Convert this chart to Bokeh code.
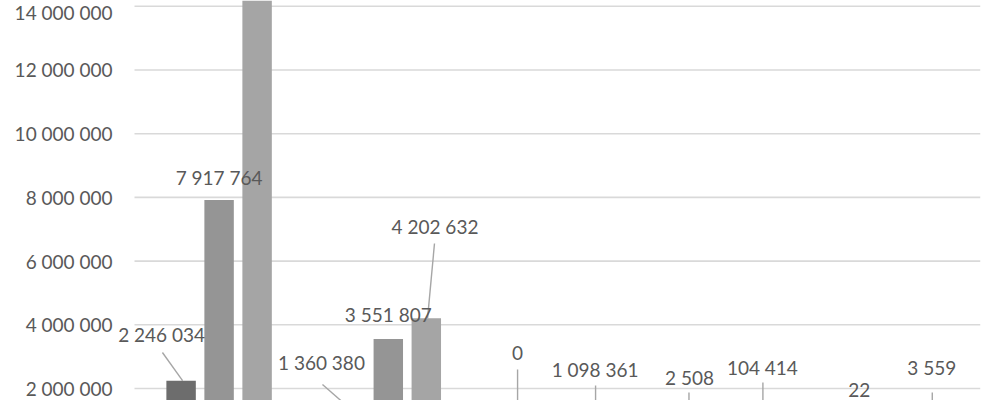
from bokeh.plotting import figure
from bokeh.models import Range1d, CustomJSTickFormatter, FixedTicker, ColumnDataSource, LabelSet
from bokeh.core.properties import value
from bokeh.embed import file_html
from bokeh.resources import INLINE

# ---- data ----
categories = ["Catégorie 1", "Catégorie 2", "Catégorie 3", "Catégorie 4", "Catégorie 5"]
series_names = ["Série 1", "Série 2", "Série 3"]
series1 = [2246034, 1360380, 0, 2508, 22]
series2 = [7917764, 3551807, 250000, 36000, 1200]
series3 = [15200000, 4202632, 1098361, 104414, 3559]
series_values = [series1, series2, series3]
y_ticks = [0, 2000000, 4000000, 6000000, 8000000, 10000000, 12000000, 14000000, 16000000]

# ---- styling / positions ----
colors = ["#6d6d6d", "#959595", "#a5a5a5"]
bar_offsets = [-0.2246, 0.0, 0.2246]
bar_width = 0.174
font = "Lato"
fsize = "19px"
text_color = "#595959"
y_lo, y_hi = 1.623e6, 14.182e6
x_lo, x_plot_lo, x_hi = -0.6064, -0.5, len(categories) - 0.5

# manually moved data labels: (series index, category index) -> (x offset, y position)
moved_labels = {
    (0, 0): (-0.340, 3.695e6),
    (0, 1): (-0.395, 2.816e6),
    (0, 2): (-0.236, 3.099e6),
    (0, 3): (-0.220, 2.345e6),
    (0, 4): (-0.216, 1.937e6),
    (1, 0): (0.0, 8.625e6),
    (1, 1): (0.0, 4.323e6),
    (2, 1): (0.276, 7.086e6),
    (2, 2): (0.222, 2.597e6),
    (2, 3): (0.211, 2.659e6),
    (2, 4): (0.212, 2.659e6),
}
default_label_gap = 0.72e6
# leader lines: (series, category, x0 offset, y0, x1 offset) ; end y = bar value
leaders = [
    (0, 0, -0.335, 3.130e6, -0.216),
    (0, 1, -0.389, 2.126e6, -0.2246),
    (2, 1, 0.273, 6.553e6, 0.232),
    (0, 2, -0.236, 2.597e6, -0.236),
    (2, 2, 0.225, 2.094e6, 0.225),
    (0, 3, -0.223, 1.874e6, -0.223),
    (2, 3, 0.214, 2.188e6, 0.214),
    (2, 4, 0.215, 1.874e6, 0.215),
]

p = figure(width=1000, height=400, output_backend="svg", toolbar_location=None,
           x_range=Range1d(x_lo, x_hi), y_range=Range1d(y_lo, y_hi),
           min_border_left=116, min_border_right=20, min_border_top=0, min_border_bottom=0)
p.outline_line_color = None
p.background_fill_color = "white"
p.border_fill_color = "white"
p.xaxis.visible = False
p.xgrid.grid_line_color = None
p.ygrid.grid_line_color = None
p.yaxis.ticker = FixedTicker(ticks=y_ticks)
p.yaxis.formatter = CustomJSTickFormatter(code="return Math.round(tick).toLocaleString('en-US').replace(/,/g, ' ');")
p.yaxis.axis_line_color = None
p.yaxis.major_tick_line_color = None
p.yaxis.minor_tick_line_color = None
p.yaxis.major_tick_out = 0
p.yaxis.major_tick_in = 0
p.yaxis.major_label_standoff = 4
p.yaxis.major_label_text_font = font
p.yaxis.major_label_text_font_size = fsize
p.yaxis.major_label_text_color = text_color

# horizontal gridlines (plot area starts right of the axis labels)
p.segment(x0=[x_plot_lo] * len(y_ticks), y0=y_ticks, x1=[x_hi] * len(y_ticks), y1=y_ticks,
          line_color="#d9d9d9", line_width=1.6)

# leader lines
lx0, ly0, lx1, ly1 = [], [], [], []
for s, c, x0, y0, x1 in leaders:
    lx0.append(c + x0)
    ly0.append(y0)
    lx1.append(c + x1)
    ly1.append(series_values[s][c])
p.segment(x0=lx0, y0=ly0, x1=lx1, y1=ly1, line_color="#a6a6a6", line_width=1.4)

# bars
for si, vals in enumerate(series_values):
    src = ColumnDataSource(dict(x=[i + bar_offsets[si] for i in range(len(categories))], top=vals))
    p.vbar(x="x", top="top", bottom=0, width=bar_width, source=src,
           fill_color=colors[si], line_color=None, legend_label=series_names[si])
p.legend.visible = False

# data labels (only those that fall inside the visible area)
tx, ty, tt = [], [], []
for si, vals in enumerate(series_values):
    for ci, v in enumerate(vals):
        if (si, ci) in moved_labels:
            dx, yy = moved_labels[(si, ci)]
        else:
            dx, yy = bar_offsets[si], v + default_label_gap
        if not (y_lo < yy < y_hi):
            continue
        tx.append(ci + dx)
        ty.append(yy)
        tt.append(f"{v:,}".replace(",", " "))
lsrc = ColumnDataSource(dict(x=tx, y=ty, t=tt))
labels = LabelSet(x="x", y="y", text="t", source=lsrc, text_align="center", text_baseline="middle",
                  text_font=value(font), text_font_size=value(fsize), text_color=text_color)
p.add_layout(labels)

open("out.html", "w").write(file_html(p, INLINE))
